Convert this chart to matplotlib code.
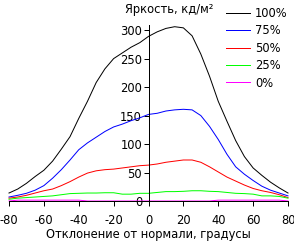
import matplotlib
matplotlib.use("Agg")
import matplotlib.pyplot as plt
import numpy as np

# viewing angle, degrees
angles = np.arange(-80, 81, 5)

lum_100 = [14, 21, 31, 43, 54, 70, 91, 113, 145, 175, 208, 232, 250, 260, 270, 278,
           289, 297, 303, 306, 304, 290, 258, 219, 175, 140, 106, 78, 58, 45, 33, 23, 14]
lum_75 = [7, 10, 13.5, 19, 27, 40, 55, 72, 90, 102, 112, 122, 130, 135, 141, 146,
          152, 154, 158, 160, 161, 160, 150, 131, 108, 82, 60, 47, 36, 26, 19, 14, 9]
lum_50 = [5, 7, 10, 14, 18, 21, 27, 34, 42, 49, 53, 55, 56, 58, 60, 62,
          63, 65, 68, 70, 72, 72, 68, 60, 51, 42, 35, 28, 22, 18, 15, 11, 6]
lum_25 = [3, 5, 6, 7, 8, 9, 11, 13, 13.5, 14, 14, 14.5, 14.5, 12, 12, 13.5,
          13.5, 15, 16.5, 16.5, 17, 18, 18, 17, 16.5, 15, 13.5, 13, 12, 9, 9, 8, 5]
lum_0 = [0, 1.5, 1.5, 1.5, 1.5, 1.5, 1.5, 1.5, 1.5, 0, 0, 0, 0, 0, 0, 0,
         0, 0, 0, 0, 0, 0, 0, 0, 1.5, 1.5, 1.5, 1.5, 1.5, 1.5, 1.5, 1.5, 0]

series = [
    ("100%", lum_100, "#000000"),
    ("75%", lum_75, "#0000ff"),
    ("50%", lum_50, "#ff0000"),
    ("25%", lum_25, "#00ff00"),
    ("0%", lum_0, "#ff00ff"),
]

plt.rcParams.update({
    "font.family": "DejaVu Sans",
    "font.size": 8.3,
    "axes.linewidth": 0.72,
    "axes.unicode_minus": False,
})

fig = plt.figure(figsize=(2.94, 2.42), dpi=100)
ax = fig.add_axes([9 / 294, 41 / 242, 279 / 294, 176 / 242])

for label, values, color in series:
    ax.plot(angles, values, color=color, linewidth=0.72, label=label,
            clip_on=False)

ax.set_xlim(-80, 80)
ax.set_ylim(0, 309)
ax.set_xticks(np.arange(-80, 81, 20))
ax.set_yticks(np.arange(0, 301, 50))

ax.spines["top"].set_visible(False)
ax.spines["right"].set_visible(False)
ax.spines["left"].set_position(("data", 0))
ax.tick_params(axis="x", direction="out", length=3.6, width=0.72, pad=5.5)
ax.tick_params(axis="y", direction="out", length=3.6, width=0.72, pad=1)

ax.set_xlabel("Отклонение от нормали, градусы", labelpad=1)
fig.text(125 / 294, 1 - 9 / 242, "Яркость, кд/м²", ha="left", va="center")

ax.legend(loc="upper left", bbox_to_anchor=(226 / 294, 1 - 7 / 242),
          bbox_transform=fig.transFigure, frameon=False, borderpad=0,
          borderaxespad=0, handlelength=2.1, handletextpad=0.4,
          labelspacing=0.38)

fig.savefig("out.png", dpi=100)
